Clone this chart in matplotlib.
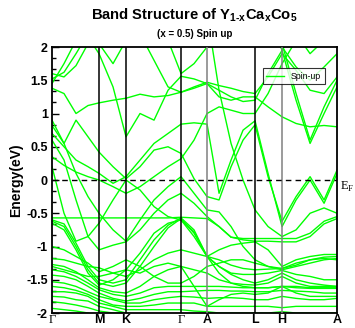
import matplotlib
matplotlib.use('Agg')
import matplotlib.pyplot as plt
from matplotlib.ticker import MultipleLocator, AutoMinorLocator
import matplotlib.transforms as mtransforms

plt.rcParams['font.family'] = ['Liberation Sans', 'DejaVu Sans']
plt.rcParams['mathtext.fontset'] = 'custom'
plt.rcParams['mathtext.bf'] = 'Liberation Sans:bold'
plt.rcParams['mathtext.rm'] = 'Liberation Serif'

# k path (distance along path) and high-symmetry points
kgrid = [0, 12, 24, 36, 47, 61, 74, 88, 102, 116, 129, 142, 155,
         167, 179, 191, 203, 216, 230, 244, 258, 272, 285]
ksym = [0, 47, 74, 129, 155, 203, 230, 285]
ksym_labels = ['Γ', 'M', 'K', 'Γ', 'A', 'L', 'H', 'A']

# energies (eV) of each band read at the kgrid points
# --- conduction side / near E_F
band01 = [1.45, 1.75, 2.1, 2.4, 2.5, 2.5, 2.5, 2.5, 2.4, 2.1, 1.6, 1.75, 2.0,
          2.3, 2.5, 2.5, 2.5, 2.5, 2.5, 2.5, 2.5, 2.5, 2.5]
band02 = [1.52, 1.62, 1.9, 2.2, 2.4, 2.5, 2.4, 2.2, 1.8, 1.4, 1.32, 1.38, 1.45,
          1.35, 1.25, 1.18, 1.2, 1.6, 1.95, 2.3, 2.5, 2.5, 2.5]
band03 = [1.6, 1.55, 1.72, 2.05, 2.3, 2.5, 2.5, 2.5, 2.5, 2.4, 2.1, 2.05, 2.3,
          2.5, 2.5, 2.5, 2.5, 2.3, 2.0, 1.7, 1.5, 1.7, 1.9]
band04 = [1.38, 1.3, 1.0, 1.12, 1.16, 1.2, 1.23, 1.29, 1.25, 1.27, 1.32, 1.4, 1.47,
          1.42, 1.38, 1.33, 1.3, 1.55, 1.9, 1.65, 1.35, 1.3, 1.55]
band05 = [2.5, 2.5, 2.4, 2.15, 1.9, 1.4, 0.65, 1.0, 0.9, 1.35, 1.56, 1.52, 1.45,
          1.25, 1.2, 1.25, 1.25, 1.1, 0.95, 0.85, 0.8, 0.82, 0.8]
band06 = [0.82, 0.55, 0.9, 0.65, 0.42, 0.2, 0.02, 0.2, 0.45, 0.5, 0.4, 0.02, -0.25,
          -0.3, 0.2, 0.6, 0.83, 0.05, -0.62, -0.25, 0.05, -0.3, 0.15]
band07 = [0.7, 0.5, 0.3, 0.2, 0.1, -0.05, 0.05, 0.3, 0.55, 0.7, 0.84, 0.86, 0.84,
          -0.2, 0.3, 0.75, 0.89, 0.1, -0.7, -0.3, 0.0, -0.35, 0.1]
band08 = [0.35, 0.22, 0.12, 0.05, 0.0, -0.1, -0.2, -0.1, 0.05, 0.2, 0.32, 0.6, 1.0,
          1.1, 1.05, 1.0, 1.0, 1.3, 1.75, 2.1, 2.3, 2.5, 2.5]
band09 = [0.9, 0.55, 0.1, -0.25, -0.5, -0.75, -0.92, -0.6, -0.3, -0.1, 0.05, -0.2, -0.45,
          -0.48, -0.7, -1.0, -1.2, -1.3, -1.33, -1.25, -1.2, -1.18, -1.2]
band10 = [0.2, -0.5, -0.92, -0.85, -0.65, -0.3, 0.0, -0.15, -0.4, -0.55, -0.6, -0.78, -1.15,
          -1.2, -1.28, -1.33, -1.35, -1.34, -1.33, -1.28, -1.2, -1.16, -1.15]
band11 = [0.6, 0.3, -0.3, -0.85, -1.05, -0.98, -0.93, -0.75, -0.5, -0.3, -0.2, -0.35, -0.55,
          -0.7, -0.86, -0.9, -0.92, -0.92, -0.93, -0.93, -0.85, -0.66, -0.58]
band12 = [2.5, 2.5, 2.5, 2.5, 2.5, 2.5, 2.5, 2.5, 2.5, 2.5, 2.5, 2.5, 2.5,
          1.35, 0.55, 0.0, -0.45, -0.7, -0.85, -0.75, -0.5, -0.42, -0.5]
band13 = [2.5, 2.5, 2.5, 2.5, 2.5, 2.5, 2.5, 2.5, 2.5, 2.5, 2.5, 2.5, 2.5,
          2.5, 2.5, 2.5, 2.5, 2.5, 1.95, 1.2, 0.55, 1.0, 1.4]
band14 = [2.5, 2.5, 2.5, 2.5, 2.5, 2.5, 2.5, 2.5, 2.5, 2.5, 2.5, 2.5, 2.5,
          2.5, 2.5, 2.5, 2.5, 2.5, 2.05, 1.3, 0.6, 1.1, 1.5]
band15 = [2.5, 2.5, 2.5, 2.3, 2.05, 1.75, 2.1, 2.5, 2.5, 2.5, 2.5, 2.5, 2.5,
          2.5, 2.5, 2.5, 2.5, 2.5, 2.5, 2.2, 1.9, 2.1, 2.4]
# --- valence side
band16 = [-0.57, -0.57, -0.57, -0.57, -0.57, -0.57, -0.57, -0.57, -0.57, -0.57, -0.56, -0.57, -0.58,
          -0.7, -0.86, -0.88, -0.88, -0.88, -0.88, -0.88, -0.8, -0.62, -0.55]
band17 = [-0.6, -0.66, -0.95, -1.3, -1.5, -1.55, -1.5, -1.2, -0.9, -0.68, -0.57, -0.75, -1.15,
          -1.05, -0.98, -0.95, -0.93, -1.05, -1.3, -1.2, -1.15, -1.12, -1.12]
band18 = [-0.62, -0.7, -1.0, -1.35, -1.55, -1.6, -1.55, -1.3, -1.0, -0.72, -0.58, -0.8, -1.15,
          -1.3, -1.42, -1.5, -1.55, -1.5, -1.4, -1.5, -1.55, -1.58, -1.6]
band19 = [-0.65, -0.75, -1.05, -1.4, -1.58, -1.5, -1.35, -1.1, -0.8, -0.65, -0.6, -0.85, -1.15,
          -1.4, -1.55, -1.6, -1.62, -1.62, -1.6, -1.6, -1.62, -1.62, -1.62]
band20 = [-1.0, -1.05, -1.15, -1.25, -1.38, -1.3, -1.2, -1.3, -1.45, -1.55, -1.55, -1.45, -1.3,
          -1.25, -1.2, -1.2, -1.25, -1.3, -1.35, -1.3, -1.25, -1.2, -1.18]
band21 = [-1.18, -1.2, -1.25, -1.3, -1.32, -1.4, -1.45, -1.35, -1.2, -1.1, -1.05, -1.1, -1.15,
          -1.3, -1.4, -1.42, -1.42, -1.4, -1.36, -1.42, -1.45, -1.5, -1.5]
band22 = [-1.27, -1.3, -1.38, -1.5, -1.62, -1.68, -1.7, -1.6, -1.45, -1.35, -1.3, -1.35, -1.4,
          -1.5, -1.55, -1.57, -1.58, -1.55, -1.45, -1.55, -1.6, -1.6, -1.6]
band23 = [-1.35, -1.38, -1.45, -1.55, -1.65, -1.72, -1.75, -1.7, -1.62, -1.6, -1.6, -1.6, -1.6,
          -1.6, -1.61, -1.62, -1.62, -1.62, -1.6, -1.62, -1.63, -1.63, -1.63]
band24 = [-1.43, -1.45, -1.5, -1.6, -1.7, -1.78, -1.82, -1.78, -1.72, -1.68, -1.68, -1.67, -1.66,
          -1.66, -1.67, -1.67, -1.68, -1.68, -1.66, -1.67, -1.68, -1.7, -1.7]
band25 = [-1.53, -1.55, -1.6, -1.68, -1.75, -1.8, -1.85, -1.85, -1.8, -1.77, -1.75, -1.76, -1.78,
          -1.77, -1.77, -1.78, -1.8, -1.8, -1.75, -1.78, -1.8, -1.8, -1.78]
band26 = [-1.6, -1.62, -1.66, -1.72, -1.8, -1.88, -1.9, -1.9, -1.88, -1.85, -1.85, -1.85, -1.9,
          -1.9, -1.9, -1.9, -1.9, -1.9, -1.92, -1.9, -1.9, -1.9, -1.9]
band27 = [-1.68, -1.68, -1.7, -1.75, -1.85, -1.9, -1.95, -1.95, -1.95, -1.95, -1.95, -1.97, -1.98,
          -2.0, -2.0, -2.0, -2.0, -2.0, -1.98, -2.0, -2.0, -2.0, -2.0]
band28 = [-1.75, -1.76, -1.8, -1.82, -1.9, -1.95, -2.0, -2.05, -2.05, -2.05, -2.05, -2.05, -2.05,
          -2.1, -2.1, -2.1, -2.1, -2.1, -2.1, -2.1, -2.1, -2.1, -2.1]
band29 = [-1.83, -1.85, -1.88, -1.92, -1.97, -2.0, -2.0, -2.05, -2.1, -2.1, -2.1, -2.1, -2.1,
          -2.1, -2.1, -2.1, -2.1, -2.1, -2.1, -2.1, -2.1, -2.1, -2.1]
band30 = [-1.93, -1.95, -1.97, -2.0, -2.05, -2.1, -2.1, -2.1, -2.1, -2.1, -2.1, -2.1, -2.1,
          -2.1, -2.1, -2.1, -2.1, -2.1, -2.1, -2.1, -2.1, -2.1, -2.1]
band31 = [-1.3, -1.35, -1.4, -1.45, -1.45, -1.4, -1.35, -1.4, -1.3, -1.25, -1.3, -1.6, -1.9,
          -1.8, -1.72, -1.7, -1.72, -1.7, -1.6, -1.7, -1.75, -1.75, -1.75]

bands = [band01, band02, band03, band04, band05, band06, band07, band08, band09, band10,
         band11, band12, band13, band14, band15, band16, band17, band18, band19, band20,
         band21, band22, band23, band24, band25, band26, band27, band28, band29, band30,
         band31]

fig = plt.figure(figsize=(3.55, 3.28), dpi=100)
ax = fig.add_axes([0.1465, 0.0457, 0.803, 0.811])

for i, b in enumerate(bands):
    ax.plot(kgrid, b, color='#00ff00', lw=1.0, label='Spin-up' if i == 0 else None)

# high symmetry lines
vcolors = ['k', 'k', 'k', 'gray', 'k', 'gray']
for kx, c in zip(ksym[1:-1], vcolors):
    ax.axvline(kx, color=c, lw=1.1, zorder=3)
ax.axhline(0, color='k', ls='--', lw=1.0, dashes=(4, 3), zorder=3)

ax.set_xlim(0, 285)
ax.set_ylim(-2, 2)
ax.set_xticks(ksym)
ax.set_xticklabels(ksym_labels)
for lab in ax.get_xticklabels():
    if lab.get_text() == 'Γ':
        lab.set_fontfamily('Liberation Serif')
        lab.set_fontweight('normal')
    else:
        lab.set_fontweight('bold')
    lab.set_fontsize(9)
ax.tick_params(axis='x', length=0, pad=1)

ax.yaxis.set_major_locator(MultipleLocator(0.5))
ax.yaxis.set_minor_locator(AutoMinorLocator(3))
ax.set_yticks([-2, -1.5, -1, -0.5, 0, 0.5, 1, 1.5, 2])
ax.set_yticklabels(['-2', '-1.5', '-1', '-0.5', '0', '0.5', '1', '1.5', '2'],
                   fontweight='bold', fontsize=9)
ax.tick_params(axis='y', which='major', direction='in', length=5, width=1, pad=3)
ax.tick_params(axis='y', which='minor', direction='in', length=3, width=1)
ax.set_ylabel('Energy(eV)', fontweight='bold', fontsize=10, labelpad=2)

for sp in ax.spines.values():
    sp.set_linewidth(1.3)

trans = mtransforms.blended_transform_factory(ax.transAxes, ax.transData)
ax.text(1.01, 0, r'E$_\mathrm{F}$', transform=trans, fontfamily='Liberation Serif',
        fontsize=9, va='top', ha='left', clip_on=False)

fig.text(0.548, 0.955,
         'Band Structure of Y$_{\\mathbf{1\u2010x}}$Ca$_{\\mathbf{x}}$Co$_{\\mathbf{5}}$',
         ha='center', va='center', fontweight='bold', fontsize=10.6)
fig.text(0.548, 0.897, '(x = 0.5) Spin up', ha='center', va='center',
         fontweight='bold', fontsize=7)

leg = ax.legend(loc='upper left', bbox_to_anchor=(0.74, 0.92), fontsize=6.3,
                frameon=True, fancybox=False, edgecolor='k', handlelength=2,
                borderpad=0.4, borderaxespad=0)
leg.get_frame().set_linewidth(0.8)

fig.savefig('out.png', dpi=100)
